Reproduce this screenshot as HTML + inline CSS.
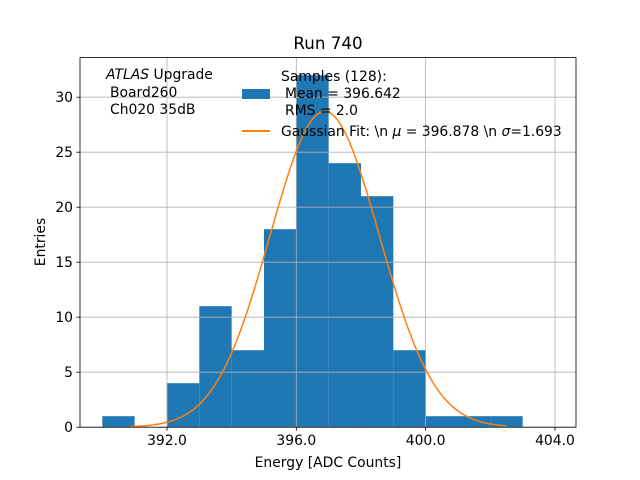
<!DOCTYPE html>
<html><head><meta charset="utf-8"><style>body{margin:0;background:#fff}svg{display:block;font-family:"DejaVu Sans","Liberation Sans",sans-serif}</style></head>
<body>
<svg id="c" width="640" height="480" viewBox="0 0 640 480">
<rect width="640" height="480" fill="#fff"/>
<g id="bars"></g>
<g id="grid"></g>
<g id="fit"></g>
<rect x="80" y="57.6" width="496" height="369.6" fill="none" stroke="#000" stroke-width="0.8"/>
<g id="ticks"></g>
<text x="328" y="49" font-size="16.7" text-anchor="middle">Run 740</text>
<text x="328" y="467" font-size="13.9" text-anchor="middle">Energy [ADC Counts]</text>
<text transform="translate(45,242) rotate(-90)" font-size="13.9" text-anchor="middle">Entries</text>
<g font-size="13.9">
<text x="106" y="79"><tspan font-style="italic">ATLAS</tspan> Upgrade</text>
<text x="110" y="97">Board260</text>
<text x="110" y="114">Ch020 35dB</text>
</g>
<g font-size="13.9">
<rect x="242" y="89" width="28" height="10" fill="#1f77b4"/>
<text x="281" y="81">Samples (128):</text>
<text x="285" y="98">Mean = 396.642</text>
<text x="285" y="115">RMS = 2.0</text>
<line x1="242" y1="131" x2="270" y2="131" stroke="#ff7f0e" stroke-width="2"/>
<text x="281" y="136">Gaussian Fit: \n <tspan font-style="italic">μ</tspan> = 396.878 \n <tspan font-style="italic">σ</tspan>=1.693</text>
</g>
</svg>
<script>
const binEdgesStart=[390,391,392,393,394,395,396,397,398,399,400,401,402];
const counts=[1,0,4,11,7,18,32,24,21,7,1,1,1];
const xTicks=[392,396,400,404];
const xTickLabels=["392.0","396.0","400.0","404.0"];
const yTicks=[0,5,10,15,20,25,30];
const fitMu=396.878, fitSigma=1.693, fitAmp=28.7, fitRange=[390.86,402.49];
const NS="http://www.w3.org/2000/svg";
const X0=80,X1=576,Y0=427.2,Y1=57.6,xmin=389.31,xmax=404.65,ymin=0,ymax=33.6;
const sx=v=>X0+(v-xmin)/(xmax-xmin)*(X1-X0);
const sy=v=>Y0-(v-ymin)/(ymax-ymin)*(Y0-Y1);
function mk(t,a,p){const e=document.createElementNS(NS,t);for(const k in a)e.setAttribute(k,a[k]);p.appendChild(e);return e;}
const bars=document.getElementById('bars');
binEdgesStart.forEach((b,i)=>{if(!counts[i])return;
const r=mk('rect',{x:sx(b),y:sy(counts[i]),width:sx(b+1)-sx(b),height:sy(0)-sy(counts[i]),fill:'#1f77b4'},bars);

});
const grid=document.getElementById('grid'),ticks=document.getElementById('ticks');
xTicks.forEach((t,i)=>{const x=sx(t);
mk('line',{x1:x,x2:x,y1:Y1,y2:Y0,stroke:'#b0b0b0','stroke-width':0.8},grid);
mk('line',{x1:x,x2:x,y1:Y0,y2:Y0+3.5,stroke:'#000','stroke-width':0.8},ticks);
const tx=mk('text',{x:x,y:Y0+18,'font-size':13.9,'text-anchor':'middle'},ticks);tx.textContent=xTickLabels[i];

});
yTicks.forEach(t=>{const y=sy(t);
mk('line',{x1:X0,x2:X1,y1:y,y2:y,stroke:'#b0b0b0','stroke-width':0.8},grid);
mk('line',{x1:X0-3.5,x2:X0,y1:y,y2:y,stroke:'#000','stroke-width':0.8},ticks);
const tx=mk('text',{x:X0-7,y:y+5,'font-size':13.9,'text-anchor':'end'},ticks);tx.textContent=t;

});
let d='';const n=200;
for(let i=0;i<=n;i++){const v=fitRange[0]+(fitRange[1]-fitRange[0])*i/n;
const f=fitAmp*Math.exp(-((v-fitMu)**2)/(2*fitSigma*fitSigma));
d+=(i?'L':'M')+sx(v).toFixed(2)+','+sy(f).toFixed(2);}
const p=mk('path',{d:d,fill:'none',stroke:'#ff7f0e','stroke-width':1.5},document.getElementById('fit'));


</script>
</body></html>
